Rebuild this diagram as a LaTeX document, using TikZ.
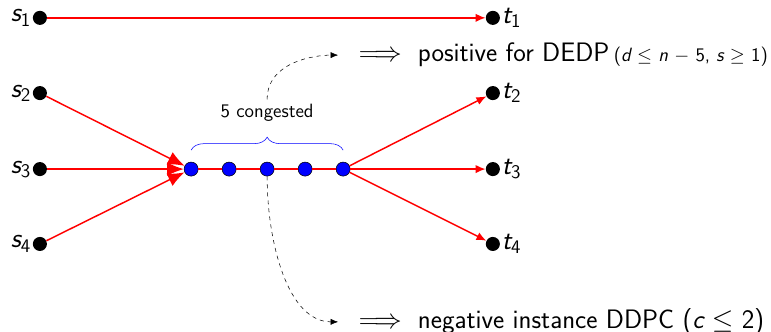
\documentclass[tikz,border=0pt]{standalone}
\usepackage{amssymb}
\usetikzlibrary{arrows.meta, positioning, decorations.pathreplacing, calc}
\renewcommand{\familydefault}{\sfdefault}
\newcommand{\idx}[2]{{\itshape #1}$_{\mathsf{#2}}$}
\tikzset{
  term/.style={circle, fill=black, inner sep=0pt, minimum size=0.37cm},
  hub/.style={circle, fill=blue, draw=black, inner sep=0pt, minimum size=0.37cm},
  flow/.style={red, line width=1.1pt},
  hint/.style={dashed, thin, -{Latex[length=2mm, width=1.6mm]}, shorten >=0.42cm},
  verdict/.style={anchor=west, font=\fontsize{20}{24}\selectfont},
}

\begin{document}
\begin{tikzpicture}
  \useasboundingbox (0,0) rectangle (20.29,-8.737);

  % sources and sinks
  \foreach \i/\y in {1/-0.47, 2/-2.45, 3/-4.45, 4/-6.42} {
    \node[term, label={[font=\huge, inner sep=1pt]left:\idx{s}{\i}}] (s\i) at (1.05,\y) {};
    \node[term, label={[font=\huge, inner sep=1pt]right:\idx{t}{\i}}] (t\i) at (12.97,\y) {};
  }

  % congested vertices
  \foreach \i in {1,...,5}
    \node[hub] (b\i) at (4.03+\i,-4.45) {};

  \draw[flow, -{Latex[length=2.6mm, width=2.2mm]}] (s1) -- (t1);
  \foreach \i in {2,3,4}
    \draw[flow, -{Latex[length=4.4mm, width=3.6mm]}] (s\i) -- (b1);
  \draw[flow] (b1) -- (b2) -- (b3) -- (b4) -- (b5);
  \foreach \i in {2,3,4}
    \draw[flow, -{Latex[length=2.6mm, width=2.2mm]}] (b5) -- (t\i);

  \draw[blue, decorate, decoration={brace, amplitude=0.34cm}]
    ([yshift=0.5cm]b1.center) -- ([yshift=0.5cm]b5.center);
  \node[font=\Large] (cong) at (7.03,-2.97) {5 congested};

  % conclusions
  \node[verdict] (pos) at (9.32,-1.45)
    {$\Longrightarrow$\hspace{0.6em}positive for DEDP\,{\Large({\itshape d} $\leq$ {\itshape n} $-$ 5, {\itshape s} $\geq$ 1)}};
  \node[verdict] (neg) at (9.32,-8.47)
    {$\Longrightarrow$\hspace{0.6em}negative instance DDPC ({\itshape c} $\leq$ 2)};

  \draw[hint] (cong.north) to[out=90, in=180] (pos.west);
  \draw[hint] (b3.south) to[out=-90, in=180] (neg.west);

\end{tikzpicture}
\end{document}
